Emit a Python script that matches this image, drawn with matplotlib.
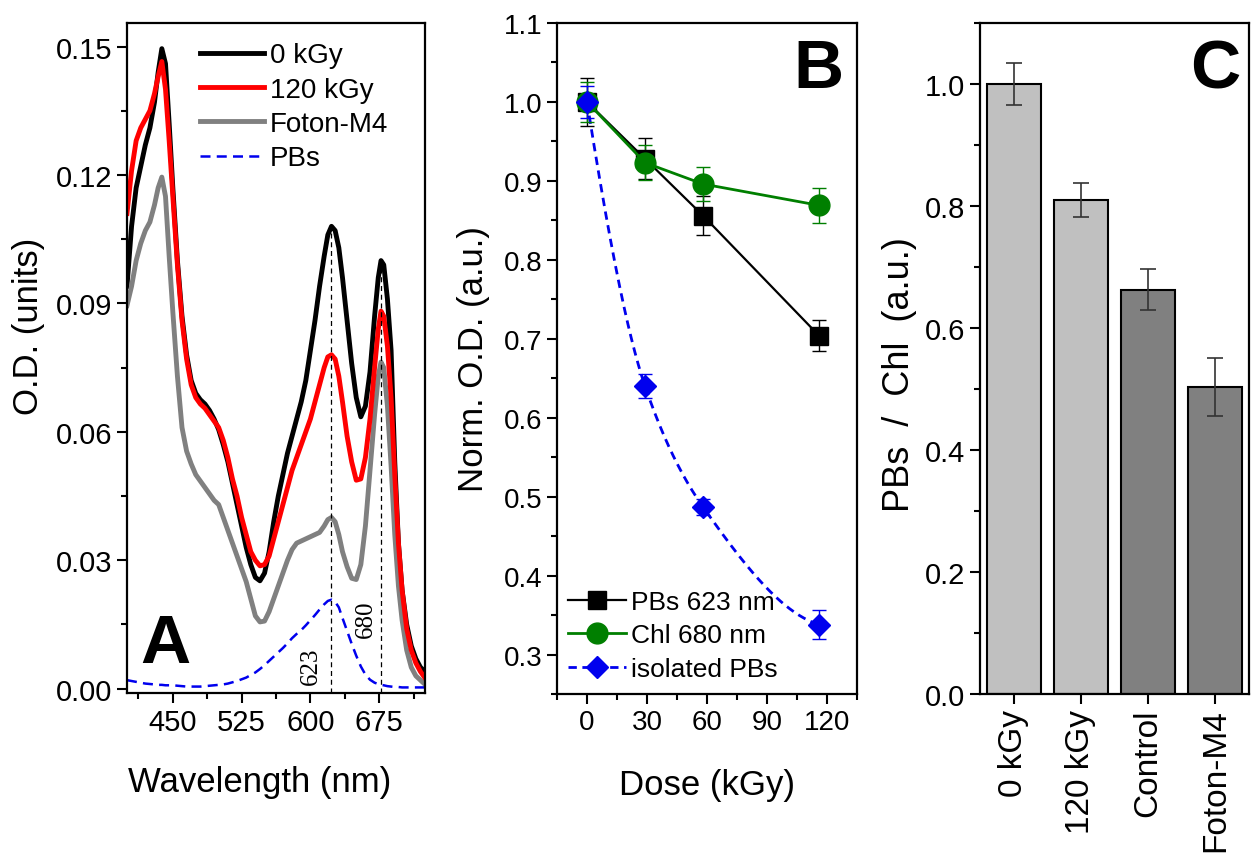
import numpy as np
import matplotlib
matplotlib.use("Agg")
import matplotlib.pyplot as plt
from matplotlib.lines import Line2D
from matplotlib.ticker import MultipleLocator, FormatStrFormatter

plt.rcParams['font.family'] = ['Liberation Sans', 'DejaVu Sans']

# --- panel A: absorption spectra ---
wl = [400, 405, 410, 415, 420, 425, 430, 434, 438, 442, 446, 450, 455, 460, 465, 470,
      475, 480, 485, 490, 495, 500, 505, 510, 515, 520, 525, 530, 535, 540, 545, 550,
      555, 560, 565, 570, 575, 580, 585, 590, 595, 600, 605, 610, 615, 619, 623, 627,
      631, 635, 640, 645, 650, 655, 660, 665, 670, 674, 677, 680, 684, 688, 692, 696,
      700, 705, 710, 715, 720, 725]
od_0kgy = [0.094, 0.108, 0.117, 0.122, 0.127, 0.131, 0.137, 0.144, 0.1495, 0.146, 0.132, 0.117,
           0.100, 0.087, 0.078, 0.072, 0.069, 0.0675, 0.0665, 0.065, 0.063, 0.0605, 0.057, 0.053,
           0.048, 0.043, 0.038, 0.033, 0.029, 0.026, 0.0252, 0.027, 0.032, 0.039, 0.045, 0.050,
           0.055, 0.059, 0.063, 0.067, 0.072, 0.079, 0.086, 0.094, 0.101, 0.106, 0.108, 0.107,
           0.103, 0.096, 0.086, 0.076, 0.068, 0.0635, 0.066, 0.074, 0.087, 0.096, 0.100, 0.099,
           0.091, 0.079, 0.053, 0.034, 0.023, 0.015, 0.010, 0.007, 0.005, 0.004]
od_120kgy = [0.111, 0.121, 0.128, 0.131, 0.133, 0.135, 0.139, 0.143, 0.1465, 0.140, 0.128, 0.115,
             0.099, 0.086, 0.077, 0.071, 0.068, 0.0665, 0.0655, 0.064, 0.0625, 0.061, 0.058, 0.054,
             0.049, 0.045, 0.040, 0.036, 0.032, 0.030, 0.0287, 0.029, 0.031, 0.035, 0.039, 0.043,
             0.047, 0.051, 0.054, 0.057, 0.060, 0.063, 0.067, 0.071, 0.075, 0.0775, 0.078, 0.077,
             0.073, 0.067, 0.059, 0.053, 0.0487, 0.049, 0.054, 0.063, 0.075, 0.084, 0.0882, 0.087,
             0.080, 0.068, 0.050, 0.034, 0.023, 0.014, 0.009, 0.006, 0.004, 0.0025]
od_foton = [0.0895, 0.094, 0.100, 0.104, 0.107, 0.109, 0.113, 0.117, 0.1195, 0.115, 0.101, 0.088,
            0.073, 0.061, 0.0555, 0.0525, 0.050, 0.0485, 0.047, 0.0455, 0.044, 0.043, 0.040, 0.037,
            0.034, 0.031, 0.028, 0.025, 0.021, 0.017, 0.0156, 0.0158, 0.018, 0.021, 0.024, 0.027,
            0.030, 0.0325, 0.034, 0.0345, 0.035, 0.0355, 0.036, 0.0365, 0.038, 0.0395, 0.040, 0.039,
            0.036, 0.032, 0.0285, 0.0258, 0.0255, 0.029, 0.038, 0.051, 0.064, 0.073, 0.0763, 0.075,
            0.066, 0.052, 0.036, 0.024, 0.016, 0.009, 0.005, 0.003, 0.002, 0.001]
od_pbs = [0.002, 0.0018, 0.0016, 0.0014, 0.0012, 0.0011, 0.001, 0.0009, 0.0009, 0.0008, 0.0008, 0.0008,
          0.0007, 0.0006, 0.0005, 0.0005, 0.0005, 0.0005, 0.0006, 0.0007, 0.0008, 0.0009, 0.001, 0.0012,
          0.0015, 0.0018, 0.0022, 0.0026, 0.0032, 0.0038, 0.0046, 0.0055, 0.0065, 0.0075, 0.0085, 0.0095,
          0.0106, 0.0118, 0.0128, 0.0137, 0.0148, 0.016, 0.0172, 0.0185, 0.0197, 0.0205, 0.0208, 0.0203,
          0.019, 0.0165, 0.0135, 0.0105, 0.0077, 0.0052, 0.0033, 0.0021, 0.0014, 0.0011, 0.0009, 0.0008,
          0.0006, 0.0005, 0.0004, 0.0004, 0.0003, 0.0003, 0.0003, 0.0003, 0.0003, 0.0003]
peak_wl = [623, 677]
peak_od = [0.108, 0.100]

# --- panel B: normalised O.D. vs dose ---
dose = [0, 29, 58, 116]
pbs_623 = [1.0, 0.928, 0.856, 0.704]
pbs_623_err = [0.03, 0.026, 0.025, 0.02]
chl_680 = [1.0, 0.923, 0.896, 0.869]
chl_680_err = [0.025, 0.022, 0.022, 0.022]
iso_pbs = [1.0, 0.640, 0.487, 0.338]
iso_pbs_err = [0.02, 0.015, 0.01, 0.018]

# --- panel C: PBs / Chl ratio ---
samples = ['0 kGy', '120 kGy', 'Control', 'Foton-M4']
ratio = [1.0, 0.81, 0.663, 0.503]
ratio_err = [0.034, 0.028, 0.033, 0.047]
bar_colors = ['#c0c0c0', '#c0c0c0', '#808080', '#808080']

TICK = 20
LAB = 25
BLUE = '#0000ee'
GREEN = '#007f00'


def smooth_line(x, y, n=200):
    # monotone cubic (pchip-like) connector through the data points
    x = np.asarray(x, float)
    y = np.asarray(y, float)
    h = np.diff(x)
    d = np.diff(y) / h
    m = np.zeros_like(y)
    for k in range(1, len(x) - 1):
        if d[k - 1] * d[k] > 0:
            w1 = 2 * h[k] + h[k - 1]
            w2 = h[k] + 2 * h[k - 1]
            m[k] = (w1 + w2) / (w1 / d[k - 1] + w2 / d[k])
    m[0] = ((2 * h[0] + h[1]) * d[0] - h[0] * d[1]) / (h[0] + h[1])
    m[-1] = ((2 * h[-1] + h[-2]) * d[-1] - h[-1] * d[-2]) / (h[-1] + h[-2])
    xs = np.linspace(x[0], x[-1], n)
    idx = np.clip(np.searchsorted(x, xs) - 1, 0, len(x) - 2)
    t = (xs - x[idx]) / h[idx]
    h00 = 2 * t**3 - 3 * t**2 + 1
    h10 = t**3 - 2 * t**2 + t
    h01 = -2 * t**3 + 3 * t**2
    h11 = t**3 - t**2
    ys = h00 * y[idx] + h10 * h[idx] * m[idx] + h01 * y[idx + 1] + h11 * h[idx] * m[idx + 1]
    return xs, ys


fig = plt.figure(figsize=(12.56, 8.62), dpi=100)


def style_axes(ax, size=TICK):
    for s in ax.spines.values():
        s.set_linewidth(1.6)
    ax.tick_params(which='major', direction='out', length=7, width=1.5, labelsize=size,
                   top=False, right=False)
    ax.tick_params(which='minor', direction='out', length=4, width=1.5, top=False, right=False)


# A
axA = fig.add_axes([0.1011, 0.1949, 0.2373, 0.7773])
l0, = axA.plot(wl, od_0kgy, color='black', lw=3.5, solid_joinstyle='round')
lf, = axA.plot(wl, od_foton, color='#808080', lw=3.5, solid_joinstyle='round')
l120, = axA.plot(wl, od_120kgy, color='red', lw=3.5, solid_joinstyle='round')
lp, = axA.plot(wl, od_pbs, color=BLUE, lw=1.8, ls=(0, (4, 2.5)))
axA.vlines(peak_wl, -0.001, peak_od, colors='black', lw=0.9, linestyles=(0, (4, 3)), zorder=5)
axA.text(601, 0.0055, '623', rotation=90, ha='center', va='center', fontsize=18,
         family='Liberation Serif')
axA.text(661, 0.0165, '680', rotation=90, ha='center', va='center', fontsize=18,
         family='Liberation Serif')
axA.text(0.128, 0.073, 'A', transform=axA.transAxes, ha='center', va='center',
         fontsize=50, fontweight='bold')
axA.set_xlim(400, 725)
axA.set_ylim(-0.001, 0.1555)
axA.xaxis.set_major_locator(MultipleLocator(75))
axA.xaxis.set_minor_locator(MultipleLocator(37.5))
axA.yaxis.set_major_locator(MultipleLocator(0.03))
axA.yaxis.set_minor_locator(MultipleLocator(0.015))
axA.yaxis.set_major_formatter(FormatStrFormatter('%.2f'))
axA.set_xlabel('Wavelength (nm)', fontsize=LAB)
axA.set_ylabel('O.D. (units)', fontsize=LAB)
axA.xaxis.set_label_coords(0.446, -0.108)
axA.yaxis.set_label_coords(-0.275, 0.548)
style_axes(axA, 21)
axA.legend([l0, l120, lf, lp], ['0 kGy', '120 kGy', 'Foton-M4', 'PBs'], loc='upper left',
           bbox_to_anchor=(0.18, 1.0), frameon=False, fontsize=20, handlelength=2.3,
           handletextpad=0.2, labelspacing=0.3, borderpad=0.2)

# B
axB = fig.add_axes([0.4435, 0.1937, 0.2388, 0.7785])
dfit, fit = smooth_line(dose, iso_pbs)
axB.plot(dfit, fit, color=BLUE, lw=2, ls=(0, (3, 2)))
axB.errorbar(dose, pbs_623, yerr=pbs_623_err, color='black', lw=1.6, marker='s', ms=13,
             capsize=5, elinewidth=1, capthick=1)
axB.errorbar(dose, chl_680, yerr=chl_680_err, color=GREEN, lw=2, marker='o', ms=15,
             capsize=5, elinewidth=1, capthick=1)
axB.errorbar(dose, iso_pbs, yerr=iso_pbs_err, color=BLUE, lw=0, marker='D', ms=11,
             capsize=5, elinewidth=1, capthick=1)
axB.text(0.87, 0.931, 'B', transform=axB.transAxes, ha='center', va='center',
         fontsize=50, fontweight='bold')
axB.set_xlim(-15, 135)
axB.set_ylim(0.25, 1.1)
axB.xaxis.set_major_locator(MultipleLocator(30))
axB.xaxis.set_minor_locator(MultipleLocator(15))
axB.yaxis.set_major_locator(MultipleLocator(0.1))
axB.yaxis.set_minor_locator(MultipleLocator(0.05))
axB.yaxis.set_major_formatter(FormatStrFormatter('%.1f'))
axB.set_xlabel('Dose (kGy)', fontsize=LAB, labelpad=24)
axB.set_ylabel('Norm. O.D. (a.u.)', fontsize=LAB, labelpad=10)
style_axes(axB)
hB = [Line2D([], [], color='black', lw=1.6, marker='s', ms=13),
      Line2D([], [], color=GREEN, lw=2, marker='o', ms=15),
      Line2D([], [], color=BLUE, lw=2, ls=(0, (3, 2)), marker='D', ms=11)]
axB.legend(hB, ['PBs 623 nm', 'Chl 680 nm', 'isolated PBs'], loc='lower left',
           bbox_to_anchor=(-0.035, -0.012), frameon=False, fontsize=19,
           handlelength=2.2, handletextpad=0.2, labelspacing=0.36, borderpad=0.3)

# C
axC = fig.add_axes([0.7803, 0.1937, 0.2141, 0.7785])
xc = np.arange(1, len(samples) + 1)
axC.bar(xc, ratio, width=0.8, color=bar_colors, edgecolor='black', linewidth=1.5, zorder=2)
axC.errorbar(xc, ratio, yerr=ratio_err, fmt='none', ecolor='#333333', elinewidth=1.2,
             capsize=6, capthick=1.2, zorder=3)
axC.text(0.874, 0.931, 'C', transform=axC.transAxes, ha='center', va='center',
         fontsize=50, fontweight='bold')
axC.set_xlim(0.5, 4.5)
axC.set_ylim(0, 1.1)
axC.set_xticks(xc)
axC.set_xticklabels(samples, rotation=90)
axC.yaxis.set_major_locator(MultipleLocator(0.2))
axC.yaxis.set_minor_locator(MultipleLocator(0.1))
axC.yaxis.set_major_formatter(FormatStrFormatter('%.1f'))
axC.set_ylabel('PBs  /  Chl  (a.u.)', fontsize=26)
axC.yaxis.set_label_coords(-0.235, 0.477)
style_axes(axC, 21)
axC.tick_params(axis='x', labelsize=24)

fig.savefig('out.png', dpi=100)
